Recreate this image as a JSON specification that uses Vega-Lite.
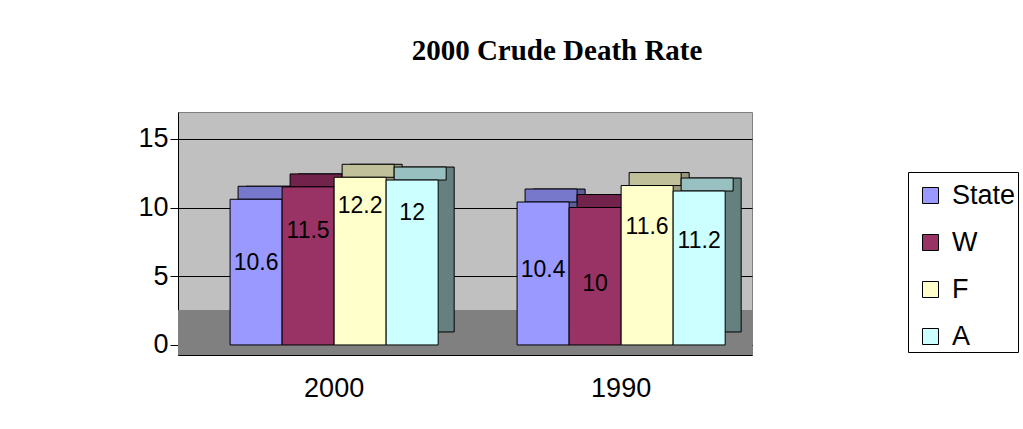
{
  "$schema": "https://vega.github.io/schema/vega-lite/v6.json",
  "width": 574,
  "height": 243,
  "autosize": {"type": "none"},
  "padding": {"left": 178, "top": 112, "right": 271, "bottom": 74},
  "background": "white",
  "title": {
    "text": "2000 Crude Death Rate",
    "font": "Liberation Serif",
    "fontSize": 29,
    "fontWeight": "bold",
    "color": "black",
    "anchor": "middle",
    "baseline": "alphabetic",
    "dx": 92,
    "offset": 23
  },
  "config": {
    "view": {"fill": "#C0C0C0", "stroke": "#808080", "strokeWidth": 1},
    "axis": {"labelFont": "Liberation Sans", "labelColor": "black", "domainColor": "black", "tickColor": "black"}
  },
  "data": {
    "values": [
      {"year": "2000", "series": "State", "value": 10.6},
      {"year": "2000", "series": "W", "value": 11.5},
      {"year": "2000", "series": "F", "value": 12.2},
      {"year": "2000", "series": "A", "value": 12},
      {"year": "1990", "series": "State", "value": 10.4},
      {"year": "1990", "series": "W", "value": 10},
      {"year": "1990", "series": "F", "value": 11.6},
      {"year": "1990", "series": "A", "value": 11.2}
    ]
  },
  "layer": [
    {
      "mark": {"type": "rect", "color": "#808080"},
      "encoding": {
        "y": {"datum": -0.73, "type": "quantitative", "axis": null, "scale": {"domain": [-0.73, 16.95], "zero": false, "nice": false}},
        "y2": {"datum": 2.55}
      }
    },
    {
      "mark": {"type": "bar", "yOffset": -13, "y2Offset": -13, "stroke": "black", "strokeWidth": 1},
      "encoding": {
        "x": {"field": "year", "type": "nominal", "axis": null, "scale": {"domain": ["2000", "1990"], "paddingInner": 0.275, "paddingOuter": 0.1375, "align": 0.66, "range": [16, 590]}},
        "xOffset": {"field": "series", "type": "nominal", "scale": {"domain": ["State", "W", "F", "A"], "paddingInner": 0, "paddingOuter": 0}},
        "y": {"field": "value", "type": "quantitative", "axis": null, "scale": {"domain": [-0.73, 16.95], "zero": false, "nice": false}},
        "y2": {"datum": 0},
        "color": {"field": "series", "type": "nominal", "legend": null, "scale": {"domain": ["State", "W", "F", "A"], "range": ["#5C5C99", "#5C1F3D", "#99997A", "#668080"]}}
      }
    },
    {
      "mark": {"type": "bar", "yOffset": -13, "y2Offset": 0, "stroke": "black", "strokeWidth": 1},
      "encoding": {
        "x": {"field": "year", "type": "nominal", "axis": null, "scale": {"domain": ["2000", "1990"], "paddingInner": 0.275, "paddingOuter": 0.1375, "align": 0.66, "range": [8, 582]}},
        "xOffset": {"field": "series", "type": "nominal", "scale": {"domain": ["State", "W", "F", "A"], "paddingInner": 0, "paddingOuter": 0}},
        "y": {"field": "value", "type": "quantitative", "axis": null, "scale": {"domain": [-0.73, 16.95], "zero": false, "nice": false}},
        "y2": {"field": "value"},
        "color": {"field": "series", "type": "nominal", "legend": null, "scale": {"domain": ["State", "W", "F", "A"], "range": ["#7777CC", "#72234C", "#C0C09A", "#99C0C0"]}}
      }
    },
    {
      "mark": {"type": "bar", "stroke": "black", "strokeWidth": 1},
      "encoding": {
        "x": {
          "field": "year", "type": "nominal", "title": null,
          "scale": {"domain": ["2000", "1990"], "paddingInner": 0.275, "paddingOuter": 0.1375, "align": 0.66},
          "axis": {"labelAngle": 0, "labelFontSize": 27, "labelPadding": 12, "tickSize": 8, "tickOpacity": 0, "domainColor": "black"}
        },
        "xOffset": {"field": "series", "type": "nominal", "scale": {"domain": ["State", "W", "F", "A"], "paddingInner": 0, "paddingOuter": 0}},
        "y": {
          "field": "value", "type": "quantitative", "title": null,
          "scale": {"domain": [-0.73, 16.95], "zero": false, "nice": false},
          "axis": {"values": [0, 5, 10, 15], "labelFontSize": 27, "tickSize": 8, "labelPadding": 2, "grid": true, "gridColor": "black", "gridWidth": 1}
        },
        "y2": {"datum": 0},
        "color": {
          "field": "series", "type": "nominal",
          "scale": {"domain": ["State", "W", "F", "A"], "range": ["#9999FF", "#993366", "#FFFFCC", "#CCFFFF"]},
          "legend": {
            "title": " ", "titleFontSize": 6, "titlePadding": 2,
            "orient": "none", "legendX": 730, "legendY": 60,
            "strokeColor": "black", "fillColor": "white", "padding": 2,
            "symbolType": "square", "symbolSize": 256, "symbolStrokeColor": "black", "symbolStrokeWidth": 1, "symbolOffset": 7,
            "labelFont": "Liberation Sans", "labelFontSize": 27, "labelColor": "black", "labelOffset": 8, "rowPadding": 19
          }
        }
      }
    },
    {
      "mark": {"type": "text", "font": "Liberation Sans", "fontSize": 23, "color": "black", "baseline": "middle"},
      "encoding": {
        "x": {"field": "year", "type": "nominal", "axis": null, "scale": {"type": "band", "domain": ["2000", "1990"], "paddingInner": 0.275, "paddingOuter": 0.1375, "align": 0.66}},
        "xOffset": {"field": "series", "type": "nominal", "scale": {"type": "band", "domain": ["State", "W", "F", "A"], "paddingInner": 0, "paddingOuter": 0}},
        "y": {"field": "value", "type": "quantitative", "axis": null, "scale": {"domain": [8.0, 14.84], "zero": false, "nice": false}},
        "text": {"field": "value", "type": "quantitative"}
      }
    }
  ],
  "resolve": {"scale": {"color": "independent", "x": "independent", "y": "independent", "xOffset": "independent"}}
}
